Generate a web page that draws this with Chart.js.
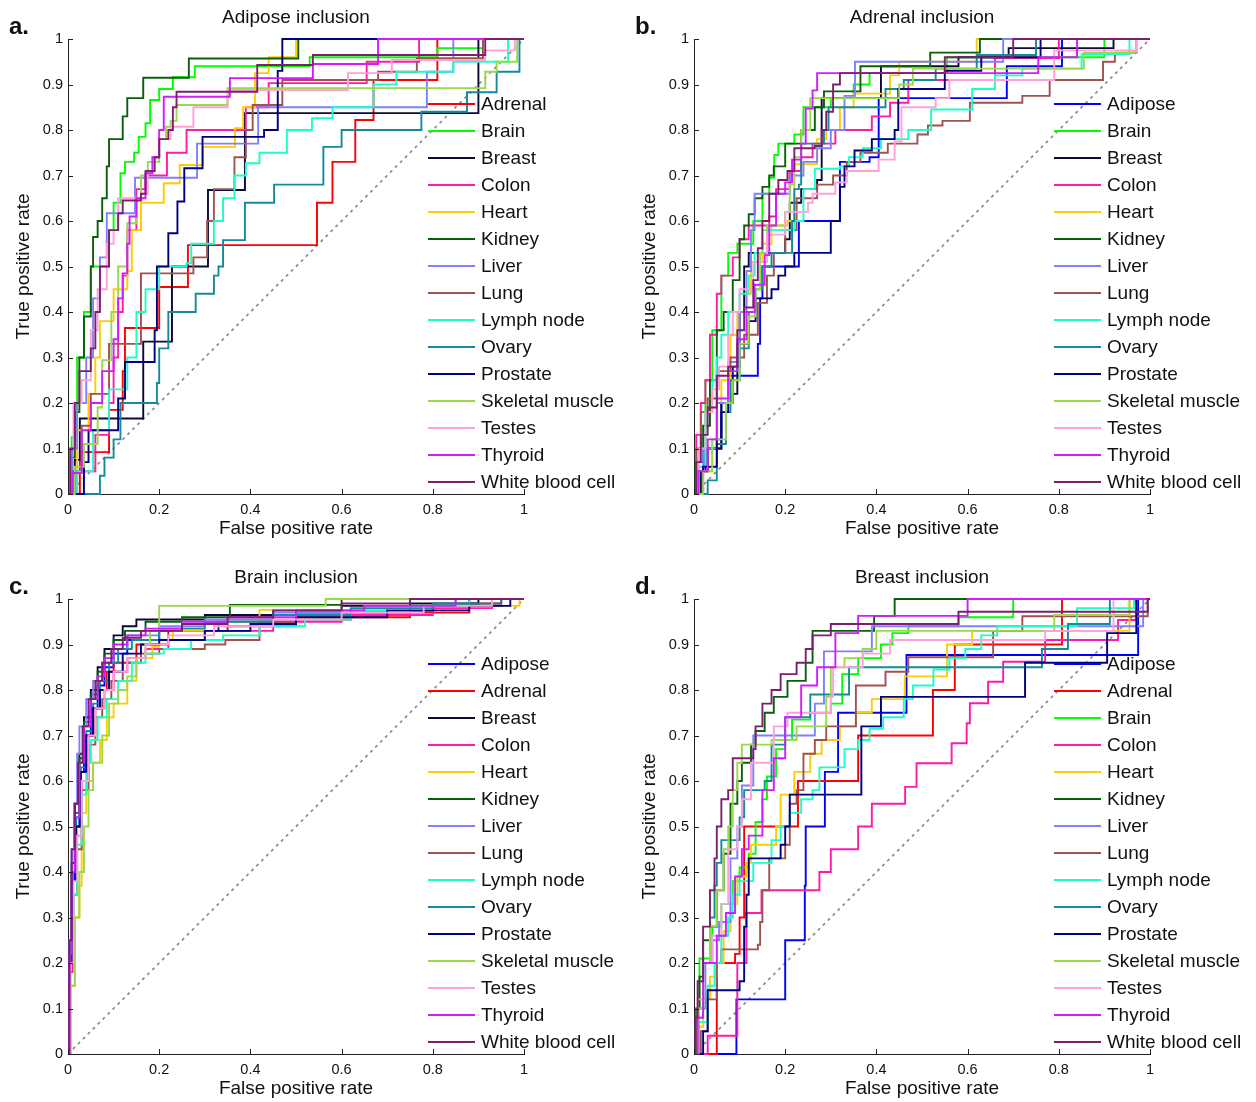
<!DOCTYPE html>
<html>
<head>
<meta charset="utf-8">
<script src="https://cdn.jsdelivr.net/npm/chart.js@4/dist/chart.umd.min.js"></script>
<style>
  html, body { margin: 0; padding: 0; background: #fff; }
  #wrap { position: relative; width: 1256px; height: 1102px; }
  canvas { position: absolute; }
</style>
</head>
<body>
<div id="wrap">
  <canvas id="chartA" width="626" height="542" style="left:0;top:0"></canvas>
  <canvas id="chartB" width="630" height="542" style="left:626px;top:0"></canvas>
  <canvas id="chartC" width="626" height="542" style="left:0;top:560px"></canvas>
  <canvas id="chartD" width="630" height="542" style="left:626px;top:560px"></canvas>
</div>
<script>
// ROC curves: each curve is a list of [false positive rate, true positive rate]
const xTicks = [0, 0.2, 0.4, 0.6, 0.8, 1];
const yTicks = [0, 0.1, 0.2, 0.3, 0.4, 0.5, 0.6, 0.7, 0.8, 0.9, 1];

// a. Adipose inclusion
const namesA = ['Adrenal', 'Brain', 'Breast', 'Colon', 'Heart', 'Kidney', 'Liver', 'Lung',
  'Lymph node', 'Ovary', 'Prostate', 'Skeletal muscle', 'Testes', 'Thyroid', 'White blood cell'];
const rocA = [
  [[0,0],[0.026,0.092],[0.09,0.185],[0.12,0.27],[0.125,0.365],[0.2,0.455],[0.263,0.547],[0.546,0.64],[0.58,0.73],[0.63,0.822],[0.67,0.91],[0.81,1],[1,1]],
  [[0,0],[0.008,0.125],[0.02,0.3],[0.035,0.4],[0.05,0.5],[0.09,0.58],[0.1,0.64],[0.115,0.705],[0.125,0.73],[0.145,0.75],[0.155,0.785],[0.17,0.815],[0.18,0.866],[0.2,0.89],[0.23,0.916],[0.278,0.94],[0.53,0.96],[0.81,0.98],[0.91,1],[1,1]],
  [[0,0],[0.015,0.075],[0.026,0.166],[0.165,0.335],[0.228,0.5],[0.307,0.668],[0.388,0.837],[0.9,1],[1,1]],
  [[0,0],[0.02,0.05],[0.06,0.13],[0.09,0.2],[0.1,0.3],[0.11,0.4],[0.12,0.48],[0.13,0.58],[0.15,0.67],[0.17,0.7],[0.217,0.75],[0.26,0.8],[0.39,0.85],[0.44,0.903],[0.655,0.95],[0.77,1],[1,1]],
  [[0,0],[0.01,0.05],[0.02,0.14],[0.045,0.22],[0.06,0.3],[0.07,0.38],[0.1,0.45],[0.13,0.49],[0.14,0.58],[0.16,0.64],[0.21,0.683],[0.245,0.723],[0.296,0.763],[0.366,0.804],[0.384,0.85],[0.41,0.925],[0.44,0.96],[0.5,1],[1,1]],
  [[0,0],[0.005,0.08],[0.015,0.18],[0.025,0.3],[0.035,0.39],[0.05,0.5],[0.055,0.565],[0.065,0.6],[0.075,0.65],[0.085,0.72],[0.09,0.78],[0.12,0.83],[0.13,0.87],[0.165,0.915],[0.265,0.957],[0.505,1],[1,1]],
  [[0,0],[0.01,0.1],[0.02,0.2],[0.04,0.3],[0.055,0.43],[0.07,0.52],[0.085,0.617],[0.147,0.695],[0.283,0.77],[0.417,0.85],[0.787,0.928],[0.845,1],[1,1]],
  [[0,0],[0.01,0.05],[0.03,0.15],[0.05,0.22],[0.09,0.33],[0.16,0.485],[0.275,0.52],[0.305,0.6],[0.32,0.67],[0.365,0.74],[0.39,0.8],[0.405,0.855],[0.47,0.91],[0.68,0.928],[0.765,0.958],[0.91,1],[1,1]],
  [[0,0],[0.02,0.05],[0.055,0.14],[0.09,0.23],[0.13,0.3],[0.15,0.4],[0.17,0.45],[0.2,0.5],[0.26,0.507],[0.27,0.55],[0.32,0.6],[0.34,0.65],[0.365,0.7],[0.39,0.727],[0.42,0.75],[0.48,0.8],[0.535,0.826],[0.58,0.85],[0.67,0.9],[0.72,0.928],[0.845,0.95],[0.965,1],[1,1]],
  [[0,0],[0.07,0.04],[0.08,0.08],[0.1,0.12],[0.115,0.2],[0.195,0.244],[0.2,0.32],[0.22,0.4],[0.28,0.44],[0.32,0.48],[0.33,0.5],[0.34,0.558],[0.388,0.64],[0.452,0.68],[0.56,0.763],[0.6,0.8],[0.775,0.84],[0.875,0.883],[0.94,0.928],[0.99,1],[1,1]],
  [[0,0],[0.035,0.07],[0.045,0.14],[0.11,0.21],[0.125,0.29],[0.19,0.36],[0.195,0.5],[0.22,0.573],[0.24,0.643],[0.255,0.716],[0.295,0.785],[0.43,0.8],[0.46,0.93],[0.47,1],[1,1]],
  [[0,0],[0.015,0.06],[0.035,0.11],[0.065,0.19],[0.075,0.294],[0.095,0.4],[0.11,0.5],[0.13,0.595],[0.15,0.65],[0.16,0.7],[0.175,0.73],[0.2,0.78],[0.215,0.807],[0.225,0.82],[0.238,0.855],[0.35,0.892],[0.915,0.928],[0.94,0.95],[0.985,1],[1,1]],
  [[0,0],[0.005,0.1],[0.012,0.2],[0.03,0.25],[0.05,0.36],[0.065,0.45],[0.085,0.55],[0.1,0.58],[0.11,0.65],[0.16,0.66],[0.175,0.71],[0.19,0.74],[0.2,0.78],[0.225,0.807],[0.275,0.85],[0.35,0.888],[0.614,0.925],[0.71,0.954],[0.915,0.975],[0.98,1],[1,1]],
  [[0,0],[0.01,0.046],[0.03,0.14],[0.05,0.2],[0.075,0.27],[0.1,0.34],[0.11,0.43],[0.12,0.485],[0.13,0.55],[0.135,0.61],[0.15,0.65],[0.17,0.705],[0.185,0.74],[0.2,0.8],[0.21,0.873],[0.355,0.914],[0.537,0.945],[0.68,1],[1,1]],
  [[0,0],[0.005,0.1],[0.015,0.2],[0.025,0.27],[0.05,0.32],[0.06,0.4],[0.07,0.5],[0.09,0.58],[0.11,0.617],[0.12,0.645],[0.16,0.66],[0.17,0.71],[0.19,0.74],[0.2,0.78],[0.22,0.8],[0.23,0.85],[0.238,0.884],[0.415,0.943],[0.537,0.965],[0.915,1],[1,1]]
];

// b. Adrenal inclusion
const namesB = ['Adipose', 'Brain', 'Breast', 'Colon', 'Heart', 'Kidney', 'Liver', 'Lung',
  'Lymph node', 'Ovary', 'Prostate', 'Skeletal muscle', 'Testes', 'Thyroid', 'White blood cell'];
const rocB = [
  [[0,0],[0.005,0.05],[0.025,0.1],[0.06,0.2],[0.075,0.26],[0.14,0.33],[0.145,0.43],[0.15,0.5],[0.23,0.6],[0.32,0.73],[0.385,0.74],[0.405,0.87],[0.686,0.94],[0.807,1],[1,1]],
  [[0,0],[0.01,0.1],[0.025,0.25],[0.04,0.36],[0.06,0.48],[0.075,0.53],[0.095,0.55],[0.13,0.6],[0.15,0.66],[0.165,0.695],[0.176,0.745],[0.185,0.77],[0.22,0.79],[0.24,0.85],[0.3,0.87],[0.35,0.9],[0.385,0.925],[0.555,0.96],[0.9,1],[1,1]],
  [[0,0],[0.015,0.05],[0.03,0.1],[0.06,0.2],[0.085,0.22],[0.095,0.28],[0.1,0.4],[0.11,0.5],[0.12,0.53],[0.2,0.56],[0.21,0.64],[0.235,0.67],[0.27,0.69],[0.28,0.87],[0.41,0.94],[0.58,0.96],[0.69,0.98],[0.92,1],[1,1]],
  [[0,0],[0.005,0.13],[0.015,0.2],[0.025,0.25],[0.035,0.35],[0.05,0.44],[0.06,0.48],[0.085,0.52],[0.1,0.56],[0.12,0.59],[0.165,0.61],[0.18,0.67],[0.21,0.71],[0.235,0.74],[0.26,0.77],[0.31,0.8],[0.39,0.83],[0.43,0.86],[0.47,0.91],[0.66,0.958],[0.8,1],[1,1]],
  [[0,0],[0.02,0.05],[0.04,0.12],[0.05,0.2],[0.06,0.25],[0.08,0.35],[0.095,0.4],[0.115,0.44],[0.125,0.51],[0.15,0.55],[0.17,0.59],[0.205,0.6],[0.22,0.725],[0.27,0.78],[0.29,0.8],[0.32,0.85],[0.35,0.88],[0.43,0.92],[0.45,0.95],[0.62,1],[1,1]],
  [[0,0],[0.003,0.07],[0.02,0.15],[0.035,0.25],[0.05,0.36],[0.065,0.4],[0.085,0.47],[0.1,0.56],[0.11,0.59],[0.12,0.615],[0.133,0.65],[0.15,0.675],[0.165,0.7],[0.175,0.72],[0.2,0.77],[0.235,0.8],[0.265,0.85],[0.285,0.885],[0.365,0.94],[0.518,0.97],[0.627,1],[1,1]],
  [[0,0],[0.02,0.1],[0.05,0.2],[0.075,0.29],[0.1,0.4],[0.115,0.49],[0.125,0.58],[0.133,0.66],[0.21,0.7],[0.24,0.73],[0.27,0.76],[0.3,0.8],[0.33,0.875],[0.353,0.95],[0.678,1],[1,1]],
  [[0,0],[0.005,0.1],[0.015,0.18],[0.03,0.21],[0.05,0.27],[0.08,0.3],[0.11,0.35],[0.14,0.42],[0.16,0.48],[0.175,0.53],[0.2,0.58],[0.225,0.65],[0.27,0.68],[0.305,0.7],[0.335,0.73],[0.365,0.75],[0.425,0.77],[0.49,0.79],[0.513,0.81],[0.545,0.82],[0.605,0.86],[0.72,0.875],[0.78,0.91],[0.897,0.95],[0.923,0.97],[0.97,1],[1,1]],
  [[0,0],[0.01,0.06],[0.025,0.18],[0.04,0.25],[0.05,0.3],[0.06,0.35],[0.075,0.4],[0.1,0.44],[0.12,0.48],[0.133,0.53],[0.15,0.58],[0.22,0.6],[0.24,0.67],[0.265,0.715],[0.32,0.72],[0.34,0.74],[0.37,0.76],[0.41,0.78],[0.47,0.8],[0.52,0.845],[0.61,0.89],[0.66,0.92],[0.72,0.935],[0.85,0.967],[0.955,1],[1,1]],
  [[0,0],[0.03,0.03],[0.05,0.11],[0.07,0.18],[0.08,0.25],[0.1,0.32],[0.12,0.4],[0.135,0.45],[0.15,0.5],[0.17,0.53],[0.215,0.6],[0.22,0.67],[0.23,0.68],[0.235,0.77],[0.285,0.8],[0.295,0.85],[0.42,0.89],[0.46,0.91],[0.53,0.935],[0.62,0.965],[0.75,1],[1,1]],
  [[0,0],[0.02,0.06],[0.05,0.12],[0.06,0.18],[0.075,0.2],[0.085,0.28],[0.095,0.33],[0.12,0.38],[0.135,0.43],[0.17,0.45],[0.185,0.48],[0.2,0.5],[0.22,0.53],[0.3,0.6],[0.32,0.675],[0.33,0.72],[0.352,0.755],[0.39,0.78],[0.44,0.8],[0.448,0.89],[0.55,0.93],[0.63,0.96],[0.76,1],[1,1]],
  [[0,0],[0.02,0.05],[0.04,0.12],[0.07,0.2],[0.085,0.25],[0.1,0.33],[0.12,0.39],[0.135,0.45],[0.145,0.53],[0.16,0.59],[0.2,0.62],[0.21,0.68],[0.22,0.74],[0.235,0.8],[0.255,0.87],[0.45,0.9],[0.48,0.935],[0.855,0.97],[0.97,1],[1,1]],
  [[0,0],[0.01,0.1],[0.025,0.18],[0.04,0.23],[0.055,0.28],[0.075,0.35],[0.085,0.4],[0.1,0.45],[0.13,0.51],[0.16,0.57],[0.2,0.62],[0.25,0.64],[0.26,0.66],[0.31,0.685],[0.335,0.71],[0.405,0.735],[0.44,0.775],[0.455,0.85],[0.53,0.87],[0.56,0.91],[0.79,0.975],[0.97,1],[1,1]],
  [[0,0],[0.01,0.05],[0.03,0.12],[0.05,0.21],[0.075,0.27],[0.095,0.34],[0.115,0.4],[0.133,0.46],[0.155,0.525],[0.165,0.59],[0.18,0.66],[0.2,0.685],[0.215,0.735],[0.235,0.77],[0.245,0.847],[0.26,0.887],[0.27,0.925],[0.755,0.96],[0.84,1],[1,1]],
  [[0,0],[0.005,0.07],[0.015,0.13],[0.03,0.19],[0.05,0.26],[0.075,0.28],[0.095,0.36],[0.11,0.41],[0.13,0.47],[0.14,0.54],[0.15,0.6],[0.165,0.66],[0.185,0.69],[0.205,0.71],[0.22,0.76],[0.265,0.765],[0.28,0.8],[0.29,0.84],[0.305,0.9],[0.32,0.925],[0.55,0.96],[0.7,1],[1,1]]
];

// c. Brain inclusion
const namesC = ['Adipose', 'Adrenal', 'Breast', 'Colon', 'Heart', 'Kidney', 'Liver', 'Lung',
  'Lymph node', 'Ovary', 'Prostate', 'Skeletal muscle', 'Testes', 'Thyroid', 'White blood cell'];
const rocC = [
  [[0,0],[0.003,0.2],[0.008,0.38],[0.015,0.5],[0.025,0.62],[0.035,0.7],[0.05,0.76],[0.065,0.81],[0.08,0.85],[0.1,0.88],[0.13,0.91],[0.2,0.93],[0.33,0.95],[0.5,0.97],[0.75,0.985],[0.88,1],[1,1]],
  [[0,0],[0.003,0.2],[0.01,0.4],[0.018,0.5],[0.028,0.62],[0.04,0.7],[0.055,0.76],[0.07,0.8],[0.085,0.84],[0.1,0.86],[0.15,0.9],[0.22,0.93],[0.35,0.94],[0.5,0.955],[0.62,0.96],[0.75,0.97],[0.88,0.99],[0.95,1],[1,1]],
  [[0,0],[0.003,0.25],[0.008,0.42],[0.015,0.55],[0.025,0.66],[0.035,0.74],[0.05,0.8],[0.065,0.85],[0.08,0.89],[0.1,0.92],[0.12,0.94],[0.15,0.955],[0.3,0.965],[0.45,0.975],[0.6,0.985],[0.75,0.99],[0.9,1],[1,1]],
  [[0,0],[0.003,0.18],[0.01,0.35],[0.02,0.48],[0.03,0.6],[0.045,0.7],[0.06,0.76],[0.08,0.8],[0.1,0.84],[0.13,0.87],[0.17,0.89],[0.22,0.91],[0.3,0.93],[0.45,0.95],[0.6,0.965],[0.8,0.98],[0.93,1],[1,1]],
  [[0,0],[0.005,0.15],[0.015,0.3],[0.025,0.37],[0.03,0.53],[0.04,0.6],[0.055,0.64],[0.07,0.69],[0.085,0.74],[0.1,0.77],[0.13,0.82],[0.15,0.87],[0.185,0.895],[0.2,0.91],[0.23,0.93],[0.32,0.95],[0.42,0.976],[0.7,0.985],[0.99,1],[1,1]],
  [[0,0],[0.003,0.22],[0.008,0.4],[0.015,0.53],[0.025,0.65],[0.035,0.73],[0.05,0.79],[0.065,0.84],[0.08,0.88],[0.1,0.91],[0.125,0.93],[0.17,0.95],[0.25,0.96],[0.355,0.987],[0.6,1],[1,1]],
  [[0,0],[0.003,0.25],[0.008,0.45],[0.013,0.55],[0.02,0.66],[0.025,0.72],[0.04,0.78],[0.055,0.82],[0.075,0.86],[0.1,0.89],[0.13,0.92],[0.2,0.94],[0.3,0.955],[0.45,0.97],[0.65,0.985],[0.85,1],[1,1]],
  [[0,0],[0.005,0.2],[0.012,0.35],[0.02,0.45],[0.03,0.58],[0.045,0.68],[0.06,0.74],[0.075,0.78],[0.095,0.82],[0.12,0.86],[0.16,0.88],[0.2,0.89],[0.3,0.9],[0.345,0.91],[0.42,0.95],[0.5,0.96],[0.62,0.974],[0.8,0.985],[0.95,1],[1,1]],
  [[0,0],[0.005,0.2],[0.012,0.35],[0.02,0.46],[0.03,0.57],[0.04,0.64],[0.05,0.69],[0.065,0.74],[0.085,0.78],[0.11,0.82],[0.14,0.86],[0.17,0.88],[0.21,0.89],[0.27,0.91],[0.34,0.92],[0.42,0.94],[0.52,0.955],[0.62,0.974],[0.75,0.985],[0.88,1],[1,1]],
  [[0,0],[0.003,0.2],[0.01,0.4],[0.018,0.52],[0.028,0.63],[0.04,0.71],[0.055,0.77],[0.07,0.82],[0.09,0.86],[0.11,0.89],[0.14,0.91],[0.2,0.935],[0.3,0.95],[0.45,0.965],[0.62,0.98],[0.8,0.99],[0.95,1],[1,1]],
  [[0,0],[0.003,0.2],[0.01,0.38],[0.018,0.5],[0.028,0.62],[0.04,0.7],[0.055,0.76],[0.07,0.8],[0.09,0.84],[0.12,0.88],[0.16,0.9],[0.2,0.91],[0.3,0.93],[0.4,0.945],[0.5,0.96],[0.7,0.975],[0.88,0.985],[0.97,1],[1,1]],
  [[0,0],[0.005,0.15],[0.015,0.3],[0.025,0.4],[0.035,0.5],[0.045,0.58],[0.055,0.64],[0.075,0.7],[0.09,0.77],[0.11,0.8],[0.13,0.83],[0.15,0.87],[0.17,0.9],[0.18,0.93],[0.2,0.985],[0.565,1],[1,1]],
  [[0,0],[0.004,0.2],[0.012,0.38],[0.02,0.48],[0.03,0.6],[0.045,0.7],[0.06,0.76],[0.08,0.8],[0.1,0.84],[0.13,0.87],[0.17,0.9],[0.22,0.92],[0.32,0.94],[0.45,0.955],[0.6,0.97],[0.78,0.985],[0.93,1],[1,1]],
  [[0,0],[0.003,0.22],[0.008,0.4],[0.015,0.52],[0.025,0.64],[0.035,0.72],[0.05,0.78],[0.065,0.83],[0.08,0.87],[0.1,0.9],[0.13,0.92],[0.17,0.935],[0.25,0.95],[0.35,0.96],[0.5,0.975],[0.65,0.985],[0.85,1],[1,1]],
  [[0,0],[0.003,0.25],[0.008,0.45],[0.015,0.55],[0.022,0.64],[0.032,0.72],[0.045,0.78],[0.06,0.82],[0.075,0.86],[0.095,0.89],[0.12,0.915],[0.16,0.93],[0.25,0.945],[0.35,0.96],[0.45,0.975],[0.6,0.99],[0.75,1],[1,1]]
];

// d. Breast inclusion
const namesD = ['Adipose', 'Adrenal', 'Brain', 'Colon', 'Heart', 'Kidney', 'Liver', 'Lung',
  'Lymph node', 'Ovary', 'Prostate', 'Skeletal muscle', 'Testes', 'Thyroid', 'White blood cell'];
const rocD = [
  [[0,0],[0.093,0.12],[0.2,0.25],[0.243,0.37],[0.245,0.5],[0.287,0.62],[0.316,0.75],[0.466,0.877],[0.974,1],[1,1]],
  [[0,0],[0.05,0.2],[0.09,0.22],[0.1,0.3],[0.11,0.5],[0.228,0.6],[0.36,0.7],[0.524,0.8],[0.572,0.9],[0.807,1],[1,1]],
  [[0,0],[0.005,0.1],[0.012,0.21],[0.04,0.28],[0.06,0.33],[0.085,0.38],[0.1,0.41],[0.12,0.44],[0.135,0.51],[0.15,0.56],[0.16,0.61],[0.18,0.67],[0.2,0.69],[0.215,0.735],[0.255,0.75],[0.3,0.77],[0.325,0.835],[0.36,0.87],[0.41,0.9],[0.435,0.925],[0.47,0.94],[0.58,0.96],[0.7,1],[1,1]],
  [[0,0],[0.03,0.04],[0.095,0.2],[0.115,0.31],[0.148,0.36],[0.275,0.4],[0.3,0.45],[0.36,0.5],[0.39,0.55],[0.463,0.587],[0.488,0.639],[0.565,0.683],[0.598,0.727],[0.605,0.771],[0.645,0.818],[0.678,0.862],[0.77,0.91],[0.93,0.954],[0.97,1],[1,1]],
  [[0,0],[0.008,0.06],[0.02,0.12],[0.035,0.17],[0.05,0.2],[0.065,0.27],[0.08,0.33],[0.095,0.39],[0.115,0.42],[0.125,0.46],[0.18,0.5],[0.19,0.57],[0.22,0.62],[0.255,0.66],[0.28,0.69],[0.32,0.72],[0.355,0.75],[0.39,0.78],[0.462,0.83],[0.555,0.9],[0.61,0.93],[0.955,1],[1,1]],
  [[0,0],[0.005,0.1],[0.012,0.17],[0.02,0.25],[0.035,0.28],[0.05,0.36],[0.065,0.44],[0.08,0.55],[0.095,0.6],[0.105,0.64],[0.125,0.68],[0.135,0.71],[0.155,0.75],[0.175,0.785],[0.205,0.82],[0.245,0.86],[0.26,0.93],[0.395,0.963],[0.44,1],[1,1]],
  [[0,0],[0.01,0.1],[0.025,0.2],[0.04,0.25],[0.055,0.29],[0.08,0.43],[0.095,0.5],[0.105,0.59],[0.13,0.7],[0.265,0.77],[0.285,0.885],[0.39,0.94],[0.985,1],[1,1]],
  [[0,0],[0.015,0.05],[0.03,0.12],[0.05,0.2],[0.06,0.23],[0.14,0.24],[0.145,0.29],[0.15,0.36],[0.165,0.43],[0.2,0.46],[0.21,0.55],[0.225,0.58],[0.24,0.66],[0.265,0.69],[0.29,0.72],[0.355,0.81],[0.42,0.84],[0.47,0.872],[0.656,0.93],[0.72,0.962],[0.995,1],[1,1]],
  [[0,0],[0.01,0.07],[0.03,0.15],[0.045,0.2],[0.06,0.26],[0.075,0.3],[0.085,0.35],[0.1,0.38],[0.13,0.42],[0.17,0.47],[0.19,0.5],[0.21,0.53],[0.235,0.56],[0.26,0.58],[0.275,0.63],[0.33,0.67],[0.36,0.69],[0.385,0.715],[0.415,0.74],[0.46,0.78],[0.48,0.81],[0.525,0.845],[0.56,0.87],[0.595,0.89],[0.63,0.92],[0.665,0.94],[0.84,0.98],[0.965,1],[1,1]],
  [[0,0],[0.01,0.08],[0.02,0.2],[0.035,0.3],[0.045,0.37],[0.05,0.42],[0.06,0.47],[0.1,0.52],[0.11,0.58],[0.155,0.6],[0.17,0.68],[0.2,0.74],[0.255,0.79],[0.34,0.85],[0.763,0.89],[0.82,0.945],[0.912,1],[1,1]],
  [[0,0],[0.02,0.05],[0.03,0.14],[0.1,0.16],[0.11,0.28],[0.115,0.35],[0.12,0.43],[0.19,0.46],[0.2,0.5],[0.21,0.57],[0.367,0.72],[0.41,0.785],[0.726,0.86],[0.906,0.925],[0.97,1],[1,1]],
  [[0,0],[0.01,0.1],[0.02,0.2],[0.035,0.28],[0.05,0.36],[0.065,0.45],[0.075,0.5],[0.085,0.58],[0.095,0.64],[0.105,0.68],[0.17,0.69],[0.225,0.72],[0.29,0.785],[0.3,0.85],[0.33,0.87],[0.37,0.89],[0.4,0.93],[0.79,0.965],[0.955,1],[1,1]],
  [[0,0],[0.008,0.12],[0.02,0.2],[0.04,0.26],[0.06,0.33],[0.075,0.45],[0.095,0.5],[0.105,0.56],[0.125,0.64],[0.175,0.72],[0.205,0.75],[0.3,0.785],[0.305,0.85],[0.37,0.88],[0.43,0.91],[0.77,0.93],[0.92,1],[1,1]],
  [[0,0],[0.008,0.08],[0.02,0.2],[0.05,0.26],[0.07,0.31],[0.09,0.39],[0.105,0.45],[0.12,0.48],[0.15,0.58],[0.175,0.65],[0.2,0.74],[0.235,0.81],[0.27,0.85],[0.31,0.925],[0.36,0.963],[0.6,1],[1,1]],
  [[0,0],[0.003,0.08],[0.008,0.16],[0.02,0.28],[0.035,0.36],[0.045,0.43],[0.05,0.5],[0.06,0.56],[0.075,0.58],[0.085,0.65],[0.13,0.67],[0.135,0.72],[0.15,0.77],[0.17,0.8],[0.19,0.835],[0.225,0.86],[0.245,0.89],[0.26,0.92],[0.3,0.945],[0.58,0.972],[0.995,1],[1,1]]
];

const tissueColors = {
  'Adipose': '#0000ff',
  'Adrenal': '#ff0000',
  'Brain': '#00ff00',
  'Breast': '#0a0a38',
  'Colon': '#ff1aa8',
  'Heart': '#ffcc00',
  'Kidney': '#0a5f0a',
  'Liver': '#8080ff',
  'Lung': '#a0524f',
  'Lymph node': '#1affc8',
  'Ovary': '#158a9a',
  'Prostate': '#00007f',
  'Skeletal muscle': '#99d94a',
  'Testes': '#ffa0d8',
  'Thyroid': '#d21cff',
  'White blood cell': '#7d1f6e'
};

const FONT = "'Liberation Sans', Arial, Helvetica, sans-serif";
const INK = '#111';
const LINE_W = 1.9;

// draws inward ticks, title, panel letter and the transparent legend
const panelDecor = {
    id: 'panelDecor',
    afterDraw(chart, args, opts) {
        const { ctx, chartArea: a, scales } = chart;
        ctx.save();
        ctx.strokeStyle = '#222';
        ctx.lineWidth = 1;
        ctx.beginPath();
        xTicks.forEach(v => {
            const px = Math.round(scales.x.getPixelForValue(v)) + 0.5;
            ctx.moveTo(px, a.bottom);
            ctx.lineTo(px, a.bottom - 5);
        });
        yTicks.forEach(v => {
            const py = Math.round(scales.y.getPixelForValue(v)) + 0.5;
            ctx.moveTo(a.left, py);
            ctx.lineTo(a.left + 5, py);
        });
        ctx.stroke();

        ctx.fillStyle = INK;
        ctx.textBaseline = 'middle';
        ctx.textAlign = 'center';
        ctx.font = '19px ' + FONT;
        ctx.fillText(opts.title, (a.left + a.right) / 2, 18);

        ctx.textAlign = 'left';
        ctx.font = 'bold 24px ' + FONT;
        ctx.fillText(opts.tag, 9, 27);

        // legend
        ctx.font = '19px ' + FONT;
        ctx.lineWidth = LINE_W;
        opts.names.forEach((name, i) => {
            const y = a.top + 65 + i * 27;
            ctx.strokeStyle = tissueColors[name];
            ctx.beginPath();
            ctx.moveTo(a.left + 360, y);
            ctx.lineTo(a.left + 407, y);
            ctx.stroke();
            ctx.fillStyle = INK;
            ctx.fillText(name, a.left + 413, y + 1);
        });
        ctx.restore();
    }
};

function makePanel(canvasId, tag, title, names, curves) {
    const canvas = document.getElementById(canvasId);
    const datasets = [{
        data: [{ x: 0, y: 0 }, { x: 1, y: 1 }],
        borderColor: '#8a8a8a',
        borderWidth: 1.7,
        borderDash: [3, 4],
        pointRadius: 0,
        order: 100
    }];
    curves.forEach((pts, i) => {
        datasets.push({
            label: names[i],
            data: pts.map(p => ({ x: p[0], y: p[1] })),
            borderColor: tissueColors[names[i]],
            borderWidth: LINE_W,
            stepped: 'before',
            pointRadius: 0,
            clip: 3,
            order: 50 - i
        });
    });

    const tickFont = { family: FONT, size: 14.5 };
    const titleFont = { family: FONT, size: 19 };

    new Chart(canvas, {
        type: 'line',
        data: { datasets: datasets },
        options: {
            responsive: false,
            animation: false,
            events: [],
            layout: { padding: { left: 0, top: 39, right: canvas.width - 524, bottom: 0 } },
            plugins: {
                legend: { display: false },
                tooltip: { enabled: false },
                panelDecor: { tag: tag, title: title, names: names }
            },
            scales: {
                x: {
                    type: 'linear',
                    min: 0, max: 1,
                    afterFit: s => { s.height = 48; },
                    afterBuildTicks: s => { s.ticks = xTicks.map(v => ({ value: v })); },
                    grid: { display: false, drawTicks: false },
                    border: { display: true, color: '#222', width: 1 },
                    ticks: { color: INK, font: tickFont, padding: 7, maxRotation: 0,
                             callback: v => String(Math.round(v * 10) / 10) },
                    title: { display: true, text: 'False positive rate', color: INK, font: titleFont,
                             padding: { top: 0, bottom: 2 } }
                },
                y: {
                    type: 'linear',
                    min: 0, max: 1,
                    afterFit: s => { s.width = 68; },
                    afterBuildTicks: s => { s.ticks = yTicks.map(v => ({ value: v })); },
                    grid: { display: false, drawTicks: false },
                    border: { display: true, color: '#222', width: 1 },
                    ticks: { color: INK, font: tickFont, padding: 5,
                             callback: v => String(Math.round(v * 10) / 10) },
                    title: { display: true, text: 'True positive rate', color: INK, font: titleFont,
                             padding: { top: 12, bottom: 0 } }
                }
            }
        },
        plugins: [panelDecor]
    });
}

makePanel('chartA', 'a.', 'Adipose inclusion', namesA, rocA);
makePanel('chartB', 'b.', 'Adrenal inclusion', namesB, rocB);
makePanel('chartC', 'c.', 'Brain inclusion', namesC, rocC);
makePanel('chartD', 'd.', 'Breast inclusion', namesD, rocD);
</script>
</body>
</html>
